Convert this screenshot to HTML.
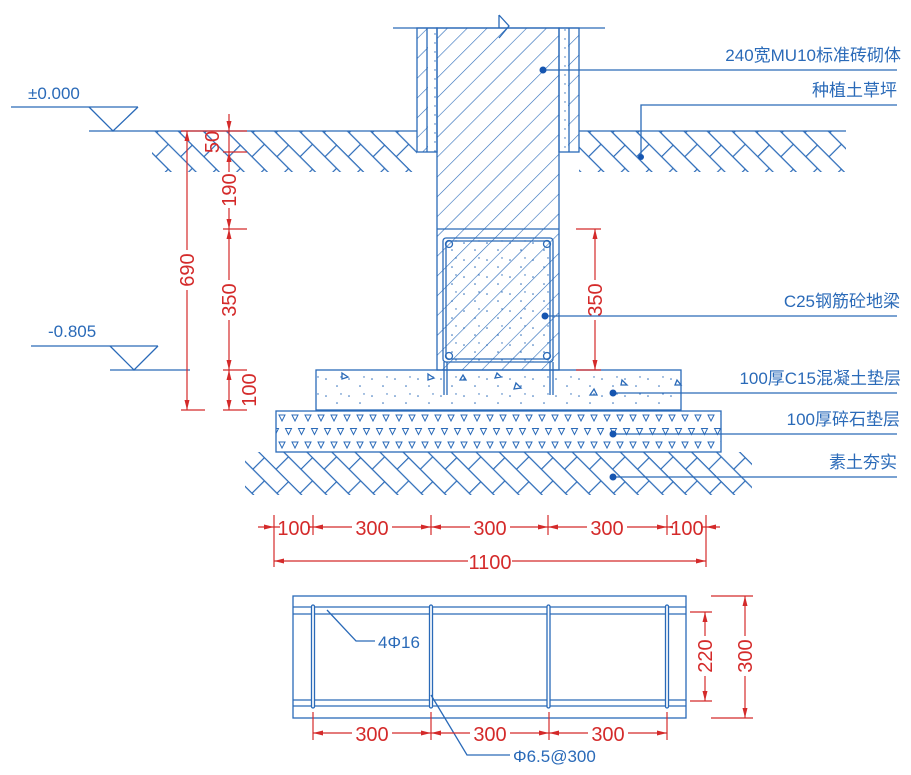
<!DOCTYPE html>
<html><head><meta charset="utf-8"><style>
html,body{margin:0;padding:0;background:#fff;}
svg{display:block;}
.b{stroke:#2a6ab8;fill:none;stroke-width:1.3}
.r{stroke:#d42a2a;fill:none;stroke-width:1.2}
.tb{fill:#2a6ab8;font-family:"Liberation Sans","Noto Sans CJK SC",sans-serif;font-size:17px}
.tr{fill:#d42a2a;font-family:"Liberation Sans",sans-serif;font-size:20px}
</style></head><body>
<svg width="911" height="775" viewBox="0 0 911 775" xmlns="http://www.w3.org/2000/svg">
<defs>
<pattern id="h45" width="14" height="14" patternUnits="userSpaceOnUse" patternTransform="rotate(-45)">
<line x1="0" y1="0" x2="14" y2="0" stroke="#2a6ab8" stroke-width="1.2"/>
</pattern>
<pattern id="soil" width="34" height="34" patternUnits="userSpaceOnUse" patternTransform="rotate(45)">
<line x1="0" y1="0.6" x2="34" y2="0.6" stroke="#2a6ab8" stroke-width="1.2"/>
<line x1="0" y1="17" x2="34" y2="17" stroke="#2a6ab8" stroke-width="1.2"/>
<line x1="0.6" y1="0" x2="0.6" y2="17" stroke="#2a6ab8" stroke-width="1.2"/>
<line x1="17" y1="17" x2="17" y2="34" stroke="#2a6ab8" stroke-width="1.2"/>
</pattern>
<pattern id="gravel" width="13" height="27" patternUnits="userSpaceOnUse" x="276" y="411">
<path d="M3 4 L9 4 L6 10 Z M-3.5 17.5 L2.5 17.5 L-0.5 23.5 Z M9.5 17.5 L15.5 17.5 L12.5 23.5 Z" fill="none" stroke="#2a6ab8" stroke-width="1"/>
</pattern>
<pattern id="dots" width="23" height="17" patternUnits="userSpaceOnUse">
<circle cx="4" cy="5" r="0.8" fill="#2a6ab8"/><circle cx="15" cy="12" r="0.8" fill="#2a6ab8"/><circle cx="19" cy="3" r="0.7" fill="#2a6ab8"/>
</pattern>
<pattern id="vdots" width="20" height="9" patternUnits="userSpaceOnUse">
<circle cx="5" cy="3" r="0.7" fill="#2a6ab8"/><circle cx="15" cy="7" r="0.7" fill="#2a6ab8"/>
</pattern>
</defs>

<!-- ground left & right -->
<rect x="152" y="131" width="265" height="41" fill="url(#soil)"/>
<rect x="579" y="131" width="267" height="41" fill="url(#soil)"/>
<line class="b" x1="89" y1="131" x2="417" y2="131"/>
<line class="b" x1="579" y1="131" x2="846" y2="131"/>

<!-- wall -->
<rect x="417" y="28" width="20" height="124" fill="url(#h45)"/>
<rect x="559" y="28" width="20" height="124" fill="url(#h45)"/>
<rect x="428" y="28" width="9" height="124" fill="#fff"/><rect x="428" y="28" width="9" height="124" fill="url(#vdots)"/>
<rect x="559" y="28" width="9" height="124" fill="#fff"/><rect x="559" y="28" width="9" height="124" fill="url(#vdots)"/>
<rect x="437" y="28" width="122" height="342" fill="#fff"/>
<rect x="437" y="28" width="122" height="342" fill="url(#h45)"/>
<line class="b" x1="393" y1="28" x2="605" y2="28"/>
<path class="b" d="M499 15 L499 28 M499 15 L509 26 L499 38"/>
<rect class="b" x="417" y="28" width="20" height="124"/>
<rect class="b" x="559" y="28" width="20" height="124"/>
<line class="b" x1="427" y1="28" x2="427" y2="152"/>
<line class="b" x1="569" y1="28" x2="569" y2="152"/>
<rect class="b" x="437" y="28" width="122" height="342"/>
<line class="b" x1="437" y1="229" x2="559" y2="229"/>
<!-- beam -->
<rect x="444" y="239" width="108" height="123" fill="url(#dots)"/>
<rect class="b" x="443" y="238" width="110" height="124" rx="3"/>
<rect class="b" x="446" y="241" width="104" height="118" rx="3"/>
<line class="b" x1="444" y1="362" x2="444" y2="395"/><line class="b" x1="447" y1="362" x2="447" y2="395"/>
<line class="b" x1="550" y1="362" x2="550" y2="395"/><line class="b" x1="553" y1="362" x2="553" y2="395"/>
<circle class="b" cx="449" cy="244" r="3.5"/><circle class="b" cx="547" cy="244" r="3.5"/>
<circle class="b" cx="449" cy="356" r="3.5"/><circle class="b" cx="547" cy="356" r="3.5"/>

<!-- pad -->
<rect x="316" y="370" width="365" height="40" fill="url(#dots)"/>
<rect class="b" x="316" y="370" width="365" height="40"/>
<g class="b" stroke-width="1"><path d="M342 373 l6 4 l-6 2z M428 374 l6 4 l-6 2z M516 383 l5 5 l-7 1z M590 395 l7 0 l-3 -6z M497 373 l4 4 l-6 1z M622 380 l5 5 l-6 0z M677 380 l4 5 l-6 0z M460 380 l6 0 l-3 -5z"/></g>
<!-- gravel -->
<rect x="276" y="411" width="445" height="41" fill="url(#gravel)"/>
<rect class="b" x="276" y="411" width="445" height="41"/>
<!-- compacted soil -->
<rect x="245" y="452" width="507" height="43" fill="url(#soil)"/>

<!-- elevations -->
<text class="tb" x="28" y="99">±0.000</text>
<line class="b" x1="11" y1="107" x2="138" y2="107"/>
<path class="b" d="M89 107 L113 131 L138 107"/>
<text class="tb" x="48" y="337">-0.805</text>
<line class="b" x1="31" y1="346" x2="158" y2="346"/>
<path class="b" d="M110 346 L134 370 L158 346"/>
<line class="b" x1="110" y1="370" x2="190" y2="370"/>

<!-- left dims -->
<g class="r">
<line x1="181" y1="131" x2="247" y2="131"/><line x1="181" y1="410" x2="205" y2="410"/>
<line x1="187" y1="131" x2="187" y2="410"/>
<line x1="229" y1="114" x2="229" y2="410"/>
<line x1="223" y1="152" x2="247" y2="152"/><line x1="223" y1="229" x2="247" y2="229"/>
<line x1="223" y1="370" x2="247" y2="370"/><line x1="223" y1="410" x2="247" y2="410"/>
</g>
<g fill="#d42a2a">
<path d="M187 131 l-2.5 10 h5z M187 410 l-2.5 -10 h5z"/>
<path d="M229 131 l-2.5 -10 h5z M229 152 l-2.5 10 h5z M229 229 l-2.5 -10 h5z M229 229 l-2.5 10 h5z M229 370 l-2.5 -10 h5z M229 370 l-2.5 10 h5z M229 410 l-2.5 -10 h5z"/>
</g>
<g class="tr">
<rect x="177" y="250" width="20" height="40" fill="#fff"/>
<text transform="translate(194,270) rotate(-90)" text-anchor="middle">690</text>
<text transform="translate(219,142) rotate(-90)" text-anchor="middle">50</text>
<rect x="218" y="172" width="22" height="36" fill="#fff"/>
<text transform="translate(236,190) rotate(-90)" text-anchor="middle">190</text>
<rect x="218" y="280" width="22" height="40" fill="#fff"/>
<text transform="translate(236,300) rotate(-90)" text-anchor="middle">350</text>
<text transform="translate(256,390) rotate(-90)" text-anchor="middle">100</text>
</g>

<!-- right 350 dim -->
<g class="r"><line x1="576" y1="229" x2="601" y2="229"/><line x1="576" y1="370" x2="601" y2="370"/><line x1="595" y1="229" x2="595" y2="370"/></g>
<path fill="#d42a2a" d="M595 229 l-2.5 10 h5z M595 370 l-2.5 -10 h5z"/>
<rect x="586" y="280" width="20" height="40" fill="#fff"/>
<text class="tr" transform="translate(602,300) rotate(-90)" text-anchor="middle">350</text>

<!-- labels -->
<g class="b" stroke-width="1.1">
<line x1="543" y1="70" x2="897" y2="70"/>
<path d="M641 157 L641 105 L897 105"/>
<line x1="545" y1="316" x2="897" y2="316"/>
<line x1="613" y1="393" x2="897" y2="393"/>
<line x1="613" y1="434" x2="897" y2="434"/>
<line x1="613" y1="477" x2="897" y2="477"/>
</g>
<g fill="#1555b0"><circle cx="543" cy="70" r="3.5"/><circle cx="641" cy="157" r="3"/><circle cx="545" cy="316" r="3.5"/><circle cx="613" cy="393" r="3.5"/><circle cx="613" cy="434" r="3.5"/><circle cx="613" cy="477" r="3.5"/></g>
<g class="tb" text-anchor="end">
<text x="901" y="61">240宽MU10标准砖砌体</text>
<text x="897" y="96">种植土草坪</text>
<text x="900" y="307">C25钢筋砼地梁</text>
<text x="901" y="384">100厚C15混凝土垫层</text>
<text x="900" y="425">100厚碎石垫层</text>
<text x="897" y="468">素土夯实</text>
</g>

<!-- bottom dims -->
<g class="r">
<line x1="258" y1="527" x2="720" y2="527"/>
<line x1="274" y1="515" x2="274" y2="567"/><line x1="313" y1="515" x2="313" y2="535"/><line x1="431" y1="515" x2="431" y2="535"/>
<line x1="548" y1="515" x2="548" y2="535"/><line x1="667" y1="515" x2="667" y2="535"/><line x1="706" y1="515" x2="706" y2="567"/>
<line x1="274" y1="561" x2="706" y2="561"/>
</g>
<g fill="#d42a2a">
<path d="M274 527 l-10 -2.5 v5z M313 527 l10 -2.5 v5z M431 527 l-10 -2.5 v5z M431 527 l10 -2.5 v5z M548 527 l-10 -2.5 v5z M548 527 l10 -2.5 v5z M667 527 l-10 -2.5 v5z M706 527 l10 -2.5 v5z M313 527 l-8 -2 v4z M667 527 l8 -2 v4z"/>
<path d="M274 561 l10 -2.5 v5z M706 561 l-10 -2.5 v5z"/>
</g>
<g class="tr" text-anchor="middle">
<rect x="280" y="516" width="28" height="20" fill="#fff"/><text x="294" y="535">100</text>
<rect x="352" y="516" width="40" height="20" fill="#fff"/><text x="372" y="535">300</text>
<rect x="470" y="516" width="40" height="20" fill="#fff"/><text x="490" y="535">300</text>
<rect x="587" y="516" width="40" height="20" fill="#fff"/><text x="607" y="535">300</text>
<rect x="673" y="516" width="28" height="20" fill="#fff"/><text x="687" y="535">100</text>
<rect x="468" y="550" width="44" height="20" fill="#fff"/><text x="490" y="569">1100</text>
</g>

<!-- plan view -->
<rect class="b" x="293" y="596" width="393" height="122"/>
<g class="b" stroke-width="1.1">
<line x1="293" y1="607" x2="686" y2="607"/><line x1="293" y1="614" x2="686" y2="614"/>
<line x1="293" y1="700" x2="686" y2="700"/><line x1="293" y1="706" x2="686" y2="706"/>
<rect x="311.5" y="605" width="3" height="103" rx="1.5" fill="#fff"/>
<rect x="429.5" y="605" width="3" height="103" rx="1.5" fill="#fff"/>
<rect x="547" y="605" width="3" height="103" rx="1.5" fill="#fff"/>
<rect x="665.5" y="605" width="3" height="103" rx="1.5" fill="#fff"/>
<path d="M327 610 L356 641 L375 641"/>
<path d="M431 695 L467 755 L510 755"/>
</g>
<text class="tb" x="378" y="648" font-size="18">4Φ16</text>
<text class="tb" x="513" y="762" font-size="18">Φ6.5@300</text>

<g class="r">
<line x1="313" y1="712" x2="313" y2="740"/><line x1="431" y1="712" x2="431" y2="740"/><line x1="549" y1="712" x2="549" y2="740"/><line x1="667" y1="712" x2="667" y2="740"/>
<line x1="313" y1="733" x2="667" y2="733"/>
<line x1="690" y1="612" x2="712" y2="612"/><line x1="690" y1="701" x2="712" y2="701"/><line x1="705" y1="612" x2="705" y2="701"/>
<line x1="711" y1="596" x2="753" y2="596"/><line x1="711" y1="718" x2="753" y2="718"/><line x1="745" y1="596" x2="745" y2="718"/>
</g>
<g fill="#d42a2a">
<path d="M313 733 l10 -2.5 v5z M431 733 l-10 -2.5 v5z M431 733 l10 -2.5 v5z M549 733 l-10 -2.5 v5z M549 733 l10 -2.5 v5z M667 733 l-10 -2.5 v5z"/>
<path d="M705 612 l-2.5 10 h5z M705 701 l-2.5 -10 h5z M745 596 l-2.5 10 h5z M745 718 l-2.5 -10 h5z"/>
</g>
<g class="tr" text-anchor="middle">
<rect x="352" y="722" width="40" height="20" fill="#fff"/><text x="372" y="741">300</text>
<rect x="470" y="722" width="40" height="20" fill="#fff"/><text x="490" y="741">300</text>
<rect x="588" y="722" width="40" height="20" fill="#fff"/><text x="608" y="741">300</text>
<rect x="696" y="636" width="18" height="40" fill="#fff"/><text transform="translate(712,656) rotate(-90)">220</text>
<rect x="736" y="636" width="18" height="40" fill="#fff"/><text transform="translate(752,656) rotate(-90)">300</text>
</g>
</svg>
</body></html>
